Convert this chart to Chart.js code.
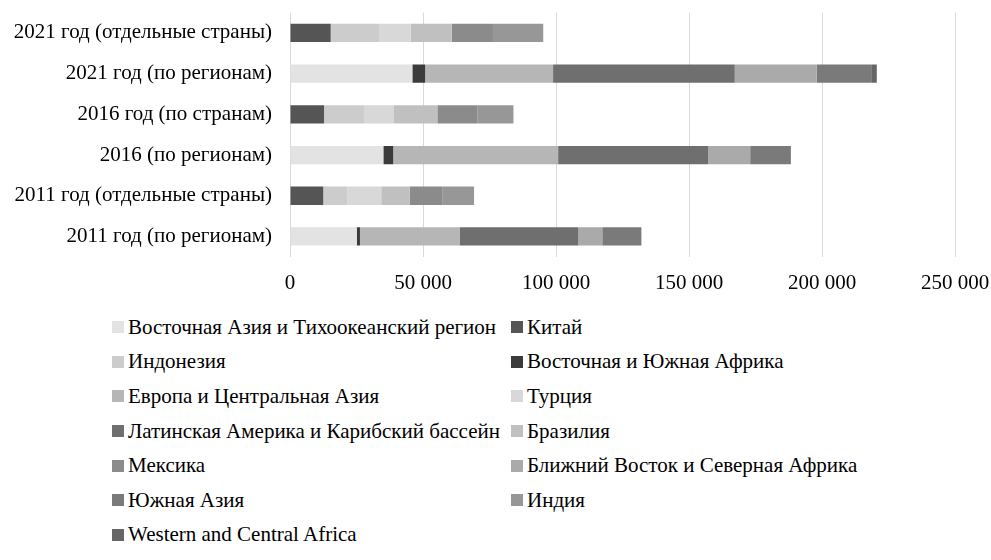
<!DOCTYPE html>
<html>
<head>
<meta charset="utf-8">
<script src="https://cdn.jsdelivr.net/npm/chart.js@4/dist/chart.umd.min.js"></script>
<style>
  body { margin: 0; background: #fff; font-family: 'Liberation Serif', 'Times New Roman', serif; }
  #wrap { position: relative; width: 991px; height: 310px; }
  #legend {
    position: absolute; left: 112px; top: 310px;
    display: grid; grid-template-columns: 399px 400px; grid-auto-rows: 34.6px;
    font-size: 21px; color: #000;
  }
  #legend .item { display: flex; align-items: center; white-space: nowrap; }
  #legend .box { width: 12px; height: 12px; margin-right: 4px; flex: none; }
</style>
</head>
<body>
<div id="wrap"><canvas id="myChart"></canvas></div>
<div id="legend"></div>
<script>
// rows top to bottom
const categories = [
  '2021 год (отдельные страны)',
  '2021 год (по регионам)',
  '2016 год (по странам)',
  '2016 (по регионам)',
  '2011 год (отдельные страны)',
  '2011 год (по регионам)'
];

const seriesNames = [
  'Восточная Азия и Тихоокеанский регион',
  'Китай',
  'Индонезия',
  'Восточная и Южная Африка',
  'Европа и Центральная Азия',
  'Турция',
  'Латинская Америка и Карибский бассейн',
  'Бразилия',
  'Мексика',
  'Ближний Восток и Северная Африка',
  'Южная Азия',
  'Индия',
  'Western and Central Africa'
];

const eastAsia     = [0, 46000, 0, 35100, 0, 25100];
const china        = [15300, 0, 12800, 0, 12500, 0];
const indonesia    = [18400, 0, 15000, 0, 9100, 0];
const eastSAfrica  = [0, 4800, 0, 3700, 0, 1200];
const europe       = [0, 48100, 0, 62000, 0, 37600];
const turkey       = [11700, 0, 11300, 0, 12700, 0];
const latinAmerica = [0, 68300, 0, 56400, 0, 44500];
const brazil       = [15400, 0, 16300, 0, 10700, 0];
const mexico       = [15500, 0, 15000, 0, 12200, 0];
const mena         = [0, 30800, 0, 15800, 0, 9000];
const southAsia    = [0, 20500, 0, 15300, 0, 14700];
const india        = [18900, 0, 13600, 0, 12000, 0];
const westCAfrica  = [0, 2100, 0, 0, 0, 0];

const xTicks = [0, 50000, 100000, 150000, 200000, 250000];

const seriesData = [eastAsia, china, indonesia, eastSAfrica, europe, turkey,
  latinAmerica, brazil, mexico, mena, southAsia, india, westCAfrica];

const colors = ['#e3e3e3', '#555555', '#cccccc', '#3b3b3b', '#b6b6b6', '#d8d8d8',
  '#6f6f6f', '#c0c0c0', '#8b8b8b', '#aaaaaa', '#7a7a7a', '#979797', '#666666'];

const datasets = seriesNames.map((name, i) => ({
  label: name,
  data: seriesData[i],
  backgroundColor: colors[i],
  borderWidth: 0,
  categoryPercentage: 0.9,
  barPercentage: 0.5
}));

Chart.defaults.font.family = "'Liberation Serif', 'Times New Roman', serif";
Chart.defaults.font.size = 21;
Chart.defaults.color = '#000';

const ctx = document.getElementById('myChart').getContext('2d');
const chart = new Chart(ctx, {
  type: 'bar',
  data: { labels: categories, datasets: datasets },
  options: {
    indexAxis: 'y',
    responsive: true,
    maintainAspectRatio: false,
    animation: false,
    layout: { padding: { top: -2, right: 0, left: 0, bottom: 0 } },
    plugins: {
      legend: { display: false },
      tooltip: { enabled: false }
    },
    scales: {
      x: {
        stacked: true,
        min: 0,
        max: 250000,
        afterBuildTicks: (axis) => { axis.ticks = xTicks.map(v => ({ value: v })); },
        // keep the plot ending at 955px like the original
        afterFit: (axis) => { axis.paddingRight = 36; axis.paddingLeft = 0; },
        ticks: {
          padding: 14,
          callback: (v) => v === 0 ? '0' : String(v).replace(/\B(?=(\d{3})+(?!\d))/g, ' ')
        },
        grid: { color: '#d9d9d9', lineWidth: 1, drawTicks: false },
        border: { display: false }
      },
      y: {
        stacked: true,
        afterFit: (axis) => { axis.width = 290; },
        ticks: { padding: 0 },
        // invisible ticks give the gap between labels and bars
        grid: { display: true, drawOnChartArea: false, drawTicks: true, tickLength: 18, color: 'rgba(0,0,0,0)' },
        border: { display: false }
      }
    }
  }
});

// two-column legend like the original
const legendEl = document.getElementById('legend');
datasets.forEach((ds) => {
  const item = document.createElement('div');
  item.className = 'item';
  const box = document.createElement('span');
  box.className = 'box';
  box.style.background = ds.backgroundColor;
  item.appendChild(box);
  item.appendChild(document.createTextNode(ds.label));
  legendEl.appendChild(item);
});
</script>
</body>
</html>
